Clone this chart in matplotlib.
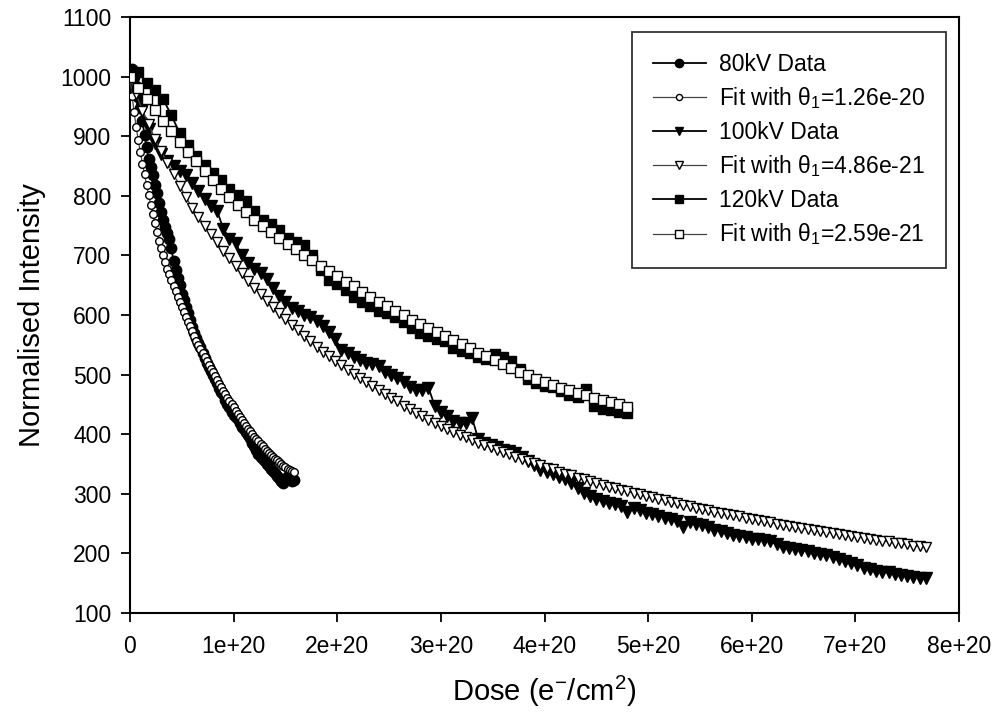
import matplotlib.pyplot as plt
from matplotlib.ticker import FixedLocator, FixedFormatter

plt.rcParams['font.family'] = ['Liberation Sans', 'DejaVu Sans']
plt.rcParams['mathtext.fontset'] = 'custom'
plt.rcParams['mathtext.rm'] = 'Liberation Sans'
plt.rcParams['mathtext.it'] = 'Liberation Sans:italic'

# dose in units of 1e20 e-/cm2
x80 = [0.00, 0.02, 0.04, 0.06, 0.08, 0.10, 0.12, 0.14, 0.16, 0.18,
       0.20, 0.22, 0.24, 0.26, 0.28, 0.30, 0.32, 0.34, 0.36, 0.38,
       0.40, 0.42, 0.44, 0.46, 0.48, 0.50, 0.52, 0.54, 0.56, 0.58,
       0.60, 0.62, 0.64, 0.66, 0.68, 0.70, 0.72, 0.74, 0.76, 0.78,
       0.80, 0.82, 0.84, 0.86, 0.88, 0.90, 0.92, 0.94, 0.96, 0.98,
       1.00, 1.02, 1.04, 1.06, 1.08, 1.10, 1.12, 1.14, 1.16, 1.18,
       1.20, 1.22, 1.24, 1.26, 1.28, 1.30, 1.32, 1.34, 1.36, 1.38,
       1.40, 1.42, 1.44, 1.46, 1.48, 1.50, 1.52, 1.54, 1.56, 1.58]
data80 = [1010, 1012, 1000, 985, 965, 948, 925, 902, 882, 862,
          848, 835, 818, 805, 788, 772, 760, 748, 738, 728,
          712, 690, 676, 662, 650, 636, 625, 614, 603, 592,
          580, 570, 562, 553, 546, 537, 528, 520, 512, 506,
          500, 492, 486, 478, 471, 467, 458, 451, 446, 438,
          432, 429, 425, 419, 412, 408, 404, 398, 394, 386,
          380, 373, 367, 362, 358, 355, 350, 346, 341, 338,
          335, 330, 326, 322, 318, 325, 330, 327, 321, 323]
fit80 = [1000, 968, 940, 915, 893, 873, 854, 836, 818, 801,
         785, 769, 754, 739, 725, 712, 700, 689, 678, 668,
         658, 649, 640, 631, 622, 614, 605, 597, 589, 581,
         573, 565, 557, 550, 543, 536, 529, 522, 516, 510,
         504, 497, 491, 485, 479, 473, 467, 461, 456, 450,
         445, 439, 434, 429, 424, 419, 414, 409, 405, 400,
         396, 392, 388, 384, 380, 376, 372, 369, 365, 362,
         359, 356, 353, 350, 347, 345, 342, 340, 338, 336]

x100 = [0.00, 0.06, 0.12, 0.18, 0.24, 0.30, 0.36, 0.42, 0.48, 0.54,
        0.60, 0.66, 0.72, 0.78, 0.84, 0.90, 0.96, 1.02, 1.08, 1.14,
        1.20, 1.26, 1.32, 1.38, 1.44, 1.50, 1.56, 1.62, 1.68, 1.74,
        1.80, 1.86, 1.92, 1.98, 2.04, 2.10, 2.16, 2.22, 2.28, 2.34,
        2.40, 2.46, 2.52, 2.58, 2.64, 2.70, 2.76, 2.82, 2.88, 2.94,
        3.00, 3.06, 3.12, 3.18, 3.24, 3.30, 3.36, 3.42, 3.48, 3.54,
        3.60, 3.66, 3.72, 3.78, 3.84, 3.90, 3.96, 4.02, 4.08, 4.14,
        4.20, 4.26, 4.32, 4.38, 4.44, 4.50, 4.56, 4.62, 4.68, 4.74,
        4.80, 4.86, 4.92, 4.98, 5.04, 5.10, 5.16, 5.22, 5.28, 5.34,
        5.40, 5.46, 5.52, 5.58, 5.64, 5.70, 5.76, 5.82, 5.88, 5.94,
        6.00, 6.06, 6.12, 6.18, 6.24, 6.30, 6.36, 6.42, 6.48, 6.54,
        6.60, 6.66, 6.72, 6.78, 6.84, 6.90, 6.96, 7.02, 7.08, 7.14,
        7.20, 7.26, 7.32, 7.38, 7.44, 7.50, 7.56, 7.62, 7.68]
data100 = [1000, 975, 945, 912, 888, 870, 858, 850, 842, 835,
           822, 808, 795, 783, 775, 745, 728, 720, 700, 688,
           678, 670, 660, 645, 632, 622, 612, 607, 600, 596,
           590, 582, 572, 560, 542, 536, 530, 525, 520, 518,
           515, 505, 500, 495, 488, 480, 475, 474, 478, 448,
           438, 430, 422, 418, 418, 428, 392, 386, 382, 378,
           374, 372, 368, 362, 355, 348, 340, 336, 333, 329,
           325, 318, 310, 302, 296, 292, 288, 285, 283, 280,
           270, 277, 272, 268, 266, 263, 260, 258, 255, 244,
           252, 250, 248, 245, 240, 237, 234, 231, 229, 227,
           225, 224, 222, 220, 216, 211, 209, 207, 206, 204,
           201, 199, 197, 194, 191, 188, 184, 180, 176, 173,
           171, 169, 168, 166, 164, 162, 161, 159, 158]
fit100 = [1000, 970, 943, 920, 896, 875, 855, 836, 817, 798,
          780, 765, 750, 736, 722, 708, 695, 682, 670, 657,
          645, 635, 624, 614, 604, 594, 584, 575, 565, 556,
          546, 538, 531, 523, 516, 508, 501, 494, 488, 481,
          474, 467, 461, 455, 448, 442, 436, 430, 424, 419,
          413, 408, 404, 399, 395, 390, 386, 382, 378, 374,
          370, 366, 362, 359, 355, 351, 348, 344, 341, 337,
          334, 331, 327, 324, 321, 318, 315, 312, 310, 307,
          304, 301, 299, 296, 294, 291, 289, 286, 284, 281,
          279, 277, 274, 272, 270, 268, 266, 264, 262, 260,
          258, 256, 254, 252, 250, 248, 246, 244, 243, 241,
          239, 237, 236, 234, 233, 231, 229, 228, 226, 225,
          223, 221, 220, 218, 217, 215, 213, 212, 210]

x120 = [0.00, 0.08, 0.16, 0.24, 0.32, 0.40, 0.48, 0.56, 0.64, 0.72,
        0.80, 0.88, 0.96, 1.04, 1.12, 1.20, 1.28, 1.36, 1.44, 1.52,
        1.60, 1.68, 1.76, 1.84, 1.92, 2.00, 2.08, 2.16, 2.24, 2.32,
        2.40, 2.48, 2.56, 2.64, 2.72, 2.80, 2.88, 2.96, 3.04, 3.12,
        3.20, 3.28, 3.36, 3.44, 3.52, 3.60, 3.68, 3.76, 3.84, 3.92,
        4.00, 4.08, 4.16, 4.24, 4.32, 4.40, 4.48, 4.56, 4.64, 4.72,
        4.80]
data120 = [1010, 1008, 990, 978, 962, 935, 905, 885, 866, 852,
           838, 826, 812, 802, 792, 775, 760, 752, 742, 730,
           722, 718, 700, 675, 658, 652, 642, 631, 622, 615,
           606, 603, 597, 588, 578, 570, 564, 560, 556, 545,
           540, 536, 530, 527, 534, 530, 522, 510, 492, 486,
           481, 479, 472, 466, 462, 476, 448, 442, 441, 438,
           435]
fit120 = [1000, 981, 962, 944, 926, 908, 891, 874, 858, 842,
          826, 812, 798, 785, 772, 760, 749, 739, 729, 719,
          710, 701, 692, 683, 674, 665, 656, 648, 639, 631,
          622, 615, 607, 600, 592, 585, 578, 571, 565, 558,
          551, 544, 537, 531, 524, 517, 511, 505, 499, 493,
          487, 482, 478, 474, 469, 465, 461, 457, 454, 450,
          446]

x_ticks = [0, 1e20, 2e20, 3e20, 4e20, 5e20, 6e20, 7e20, 8e20]
x_tick_labels = ['0', '1e+20', '2e+20', '3e+20', '4e+20', '5e+20', '6e+20', '7e+20', '8e+20']
y_ticks = [100, 200, 300, 400, 500, 600, 700, 800, 900, 1000, 1100]

labels = ['80kV Data', 'Fit with θ$_1$=1.26e-20',
          '100kV Data', 'Fit with θ$_1$=4.86e-21',
          '120kV Data', 'Fit with θ$_1$=2.59e-21']


def dose(xs):
    return [v * 1e20 for v in xs]


fig = plt.figure(figsize=(10.01, 7.16), dpi=100)
ax = fig.add_axes([130 / 1001, 1 - 613 / 716, 829 / 1001, 596 / 716])

data_kw = dict(color='black', lw=1.3, markeredgecolor='black', markerfacecolor='black')
fit_kw = dict(color='#444444', lw=0.9, markeredgecolor='black', markerfacecolor='white',
              markeredgewidth=1.0)

ax.plot(dose(x80), data80, marker='o', ms=7.5, label=labels[0], zorder=3, **data_kw)
ax.plot(dose(x80), fit80, marker='o', ms=5.5, label=labels[1], zorder=4, **fit_kw)
ax.plot(dose(x100), data100, marker='v', ms=8, label=labels[2], zorder=3, **data_kw)
ax.plot(dose(x100), fit100, marker='v', ms=6.5, label=labels[3], zorder=4, **fit_kw)
ax.plot(dose(x120), data120, marker='s', ms=7.5, label=labels[4], zorder=3, **data_kw)
ax.plot(dose(x120), fit120, marker='s', ms=6.5, label=labels[5], zorder=4, **fit_kw)

ax.set_xlim(0, 8e20)
ax.set_ylim(100, 1100)
ax.xaxis.set_major_locator(FixedLocator(x_ticks))
ax.xaxis.set_major_formatter(FixedFormatter(x_tick_labels))
ax.yaxis.set_major_locator(FixedLocator(y_ticks))
ax.tick_params(direction='out', length=6.5, width=1.3, labelsize=16.5, pad=7)
ax.tick_params(axis='x', pad=9)
for sp in ax.spines.values():
    sp.set_linewidth(1.5)

ax.set_xlabel('Dose (e$^{-}$/cm$^{2}$)', fontsize=21, labelpad=12)
ax.set_ylabel('Normalised Intensity', fontsize=21, labelpad=10)

leg = ax.legend(loc='upper right', bbox_to_anchor=(946 / 1001, 1 - 32 / 716),
                bbox_transform=fig.transFigure, fontsize=16.5, frameon=True,
                fancybox=False, edgecolor='black', borderaxespad=0,
                handlelength=2.3, handletextpad=0.6, labelspacing=0.42, borderpad=0.9,
                markerscale=0.8)
leg.get_frame().set_linewidth(1.3)

fig.savefig('out.png', dpi=100, facecolor='white')
